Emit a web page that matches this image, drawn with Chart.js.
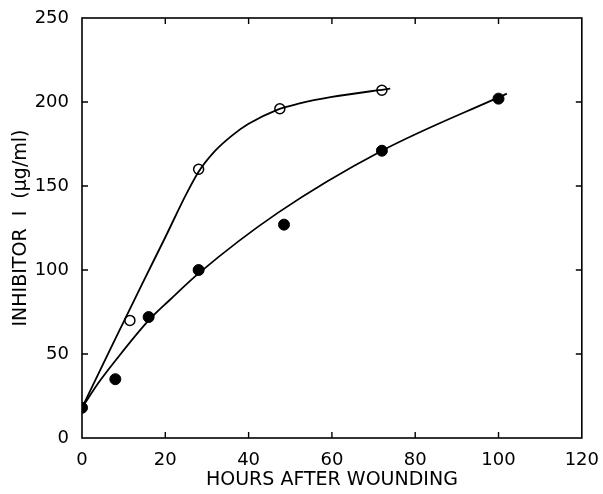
<!DOCTYPE html>
<html>
<head>
<meta charset="utf-8">
<script src="https://cdn.jsdelivr.net/npm/chart.js@4"></script>
<style>
  html, body { margin: 0; padding: 0; background: #fff; }
  #wrap { width: 603px; height: 494px; }
</style>
</head>
<body>
<div id="wrap"><canvas id="myChart"></canvas></div>
<script>
// measured points
var openHours = [11.5, 28, 47.5, 72];
var openInhibitor = [70, 160, 196, 207];
var filledHours = [0, 8, 16, 28, 48.5, 72, 100];
var filledInhibitor = [18, 35, 72, 100, 127, 171, 202];

// hand-drawn fitted curves
var openCurveHours = [0, 7, 14.6, 20, 25, 28, 32, 36, 40, 47, 52, 60, 74];
var openCurveInhibitor = [18, 54, 92.5, 119.5, 145, 158.5, 171, 180, 187, 195.5, 199, 203, 208];
var filledCurveHours = [0, 4, 8, 16, 21, 28, 47, 72, 102];
var filledCurveInhibitor = [18, 33, 46, 70, 82, 98, 134, 171, 205];

var xTicks = [0, 20, 40, 60, 80, 100, 120];
var yTicks = [0, 50, 100, 150, 200, 250];

function pairs(xs, ys) {
  return xs.map(function(x, i) { return { x: x, y: ys[i] }; });
}

// frame with inward tick marks on all four sides
var framePlugin = {
  id: 'frame',
  afterDraw: function(chart) {
    var ctx = chart.ctx;
    var a = chart.chartArea;
    var xs = chart.scales.x, ys = chart.scales.y;
    ctx.save();
    ctx.strokeStyle = '#000';
    ctx.lineWidth = 1.6;
    ctx.strokeRect(a.left, a.top, a.right - a.left, a.bottom - a.top);
    ctx.lineWidth = 1.4;
    ctx.beginPath();
    xTicks.slice(1, -1).forEach(function(v) {
      var px = xs.getPixelForValue(v);
      ctx.moveTo(px, a.bottom); ctx.lineTo(px, a.bottom - 6);
      ctx.moveTo(px, a.top); ctx.lineTo(px, a.top + 6);
    });
    yTicks.slice(1, -1).forEach(function(v) {
      var py = ys.getPixelForValue(v);
      ctx.moveTo(a.left, py); ctx.lineTo(a.left + 6, py);
      ctx.moveTo(a.right, py); ctx.lineTo(a.right - 6, py);
    });
    ctx.stroke();
    ctx.restore();
  }
};

var ctx = document.getElementById('myChart').getContext('2d');
var chart = new Chart(ctx, {
  type: 'scatter',
  data: {
    datasets: [
      {
        label: 'open curve',
        data: pairs(openCurveHours, openCurveInhibitor),
        showLine: true,
        borderColor: '#000',
        borderWidth: 1.8,
        pointRadius: 0,
        cubicInterpolationMode: 'monotone'
      },
      {
        label: 'filled curve',
        data: pairs(filledCurveHours, filledCurveInhibitor),
        showLine: true,
        borderColor: '#000',
        borderWidth: 1.8,
        pointRadius: 0,
        cubicInterpolationMode: 'monotone'
      },
      {
        label: 'open',
        data: pairs(openHours, openInhibitor),
        pointRadius: 5,
        pointBackgroundColor: '#fff',
        pointBorderColor: '#000',
        pointBorderWidth: 1.5
      },
      {
        label: 'filled',
        data: pairs(filledHours, filledInhibitor),
        pointRadius: 5.5,
        pointBackgroundColor: '#000',
        pointBorderColor: '#000',
        pointBorderWidth: 1
      }
    ]
  },
  options: {
    responsive: true,
    maintainAspectRatio: false,
    animation: false,
    layout: { padding: { top: 18, right: 18, left: 0, bottom: 0 } },
    plugins: {
      legend: { display: false },
      tooltip: { enabled: false }
    },
    scales: {
      x: {
        type: 'linear',
        min: 0,
        max: 120,
        afterBuildTicks: function(s) { s.ticks = xTicks.map(function(v) { return { value: v }; }); },
        afterFit: function(s) { s.height = 56; },
        grid: { display: false },
        border: { display: false },
        ticks: {
          color: '#000',
          padding: 4,
          maxRotation: 0,
          font: { family: 'DejaVu Sans', size: 18 }
        },
        title: {
          display: true,
          text: 'HOURS AFTER WOUNDING',
          color: '#000',
          padding: { top: 0, bottom: 3 },
          font: { family: 'DejaVu Sans', size: 19 }
        }
      },
      y: {
        type: 'linear',
        min: 0,
        max: 250,
        afterBuildTicks: function(s) { s.ticks = yTicks.map(function(v) { return { value: v }; }); },
        afterFit: function(s) { s.width = 82; },
        grid: { display: false },
        border: { display: false },
        ticks: {
          color: '#000',
          padding: 5,
          font: { family: 'DejaVu Sans', size: 18 }
        },
        title: {
          display: true,
          text: 'INHIBITOR  I  (\u03bcg/ml)',
          color: '#000',
          padding: { top: 10, bottom: 0 },
          font: { family: 'DejaVu Sans', size: 19 }
        }
      }
    }
  },
  plugins: [framePlugin]
});
</script>
</body>
</html>
